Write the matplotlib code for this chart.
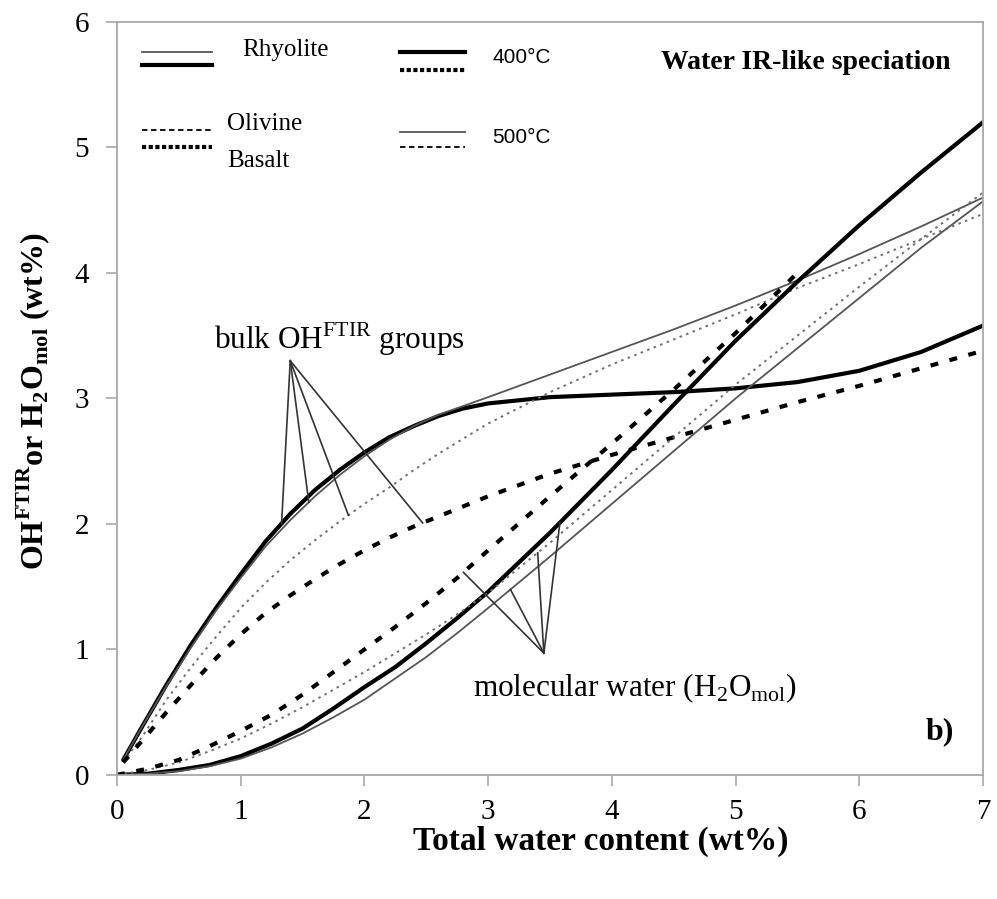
import numpy as np
import matplotlib
matplotlib.use("Agg")
import matplotlib.pyplot as plt
from matplotlib.lines import Line2D

plt.rcParams['font.family'] = ['Liberation Serif', 'DejaVu Serif']
plt.rcParams['mathtext.fontset'] = 'custom'
plt.rcParams['mathtext.rm'] = 'Liberation Serif'
plt.rcParams['mathtext.bf'] = 'Liberation Serif:bold'

# total water content (wt%) for the OH curves
x_oh = [0.05, 0.2, 0.4, 0.6, 0.8, 1.0, 1.2, 1.4, 1.6, 1.8, 2.0, 2.2, 2.4, 2.6, 2.8,
        3.0, 3.5, 4.0, 4.5, 5.0, 5.5, 6.0, 6.5, 7.0]
rhy400_oh = [0.12, 0.38, 0.72, 1.04, 1.33, 1.60, 1.86, 2.08, 2.27, 2.43, 2.57, 2.69, 2.78, 2.86, 2.92,
             2.96, 3.01, 3.03, 3.05, 3.08, 3.13, 3.22, 3.37, 3.58]
rhy500_oh = [0.12, 0.38, 0.71, 1.02, 1.31, 1.57, 1.82, 2.03, 2.22, 2.39, 2.54, 2.67, 2.78, 2.87, 2.94,
             3.01, 3.19, 3.37, 3.55, 3.74, 3.94, 4.15, 4.37, 4.60]
bas500_oh = [0.10, 0.30, 0.60, 0.86, 1.10, 1.33, 1.53, 1.71, 1.87, 2.02, 2.16, 2.29, 2.43, 2.56, 2.68,
             2.80, 3.05, 3.27, 3.47, 3.67, 3.88, 4.07, 4.27, 4.47]
bas400_oh = [0.10, 0.27, 0.50, 0.72, 0.93, 1.12, 1.29, 1.43, 1.56, 1.68, 1.79, 1.89, 1.98, 2.06, 2.14,
             2.22, 2.40, 2.55, 2.69, 2.83, 2.97, 3.10, 3.24, 3.38]

# total water content (wt%) for the molecular water curves
x_mol = [0.0, 0.25, 0.5, 0.75, 1.0, 1.25, 1.5, 1.75, 2.0, 2.25, 2.5, 2.75, 3.0,
         3.5, 4.0, 4.5, 5.0, 5.5, 6.0, 6.5, 7.0]
rhy400_mol = [0.0, 0.01, 0.04, 0.08, 0.15, 0.25, 0.37, 0.53, 0.70, 0.86, 1.05, 1.25, 1.46,
              1.93, 2.43, 2.95, 3.46, 3.93, 4.38, 4.80, 5.20]
rhy500_mol = [0.0, 0.01, 0.03, 0.07, 0.13, 0.22, 0.33, 0.46, 0.60, 0.77, 0.94, 1.13, 1.33,
              1.74, 2.16, 2.58, 3.00, 3.40, 3.80, 4.20, 4.57]
bas500_mol = [0.0, 0.04, 0.10, 0.19, 0.29, 0.41, 0.54, 0.68, 0.82, 0.97, 1.12, 1.28, 1.45,
              1.85, 2.27, 2.69, 3.11, 3.50, 3.89, 4.27, 4.64]
x_bas400_mol = [0.0, 0.25, 0.5, 0.75, 1.0, 1.25, 1.5, 1.75, 2.0, 2.25, 2.5, 2.75, 3.0,
                3.5, 4.0, 4.5, 5.0, 5.5]
bas400_mol = [0.0, 0.05, 0.12, 0.23, 0.35, 0.48, 0.64, 0.82, 1.00, 1.18, 1.37, 1.57, 1.79,
              2.22, 2.64, 3.07, 3.52, 4.00]

# line styles: rhyolite solid, basalt broken; 400 C thick, 500 C thin
thick_solid = dict(color='black', lw=3.0, solid_capstyle='round', solid_joinstyle='round')
thin_solid = dict(color='#555555', lw=1.3)
thick_dash = dict(color='black', lw=3.0, dashes=(1.9, 2.8))
thin_dot = dict(color='#707070', lw=1.4, dashes=(1.3, 2.3))

fig = plt.figure(figsize=(9.97, 8.99), dpi=100)
ax = fig.add_axes([0.1174, 0.138, 0.8686, 0.8377])

ax.plot(x_oh, rhy400_oh, **thick_solid)
ax.plot(x_oh, rhy500_oh, **thin_solid)
ax.plot(x_oh, bas500_oh, **thin_dot)
ax.plot(x_oh, bas400_oh, **thick_dash)
ax.plot(x_mol, rhy400_mol, **thick_solid)
ax.plot(x_mol, rhy500_mol, **thin_solid)
ax.plot(x_mol, bas500_mol, **thin_dot)
ax.plot(x_bas400_mol, bas400_mol, **thick_dash)

ax.set_xlim(0, 7)
ax.set_ylim(0, 6)
ax.set_xticks(range(0, 8))
ax.set_yticks(range(0, 7))
for s in ax.spines.values():
    s.set_color('#a8a8a8')
    s.set_linewidth(1.3)
ax.tick_params(axis='both', direction='out', length=8, width=1.2, color='#a8a8a8',
               labelsize=21)
ax.tick_params(axis='x', pad=9)
ax.tick_params(axis='y', pad=12)

ax.set_xlabel('Total water content (wt%)', fontsize=24, fontweight='bold')
ax.xaxis.set_label_coords(0.558, -0.067)
ax.set_ylabel(r'OH$^{\mathbf{FTIR}}$or H$_{\mathbf{2}}$O$_{\mathbf{mol}}$ (wt%)',
              fontsize=23, fontweight='bold')
ax.yaxis.set_label_coords(-0.075, 0.497)

# annotation: bulk OH groups
ax.text(0.78, 3.39, r'bulk OH$^{\mathrm{FTIR}}$ groups', fontsize=22.5, ha='left', va='baseline')
oh_apex = (1.40, 3.30)
for xs, ys, xt in [(x_oh, rhy400_oh, 1.33), (x_oh, rhy500_oh, 1.55),
                   (x_oh, bas500_oh, 1.87), (x_oh, bas400_oh, 2.47)]:
    ax.plot([oh_apex[0], xt], [oh_apex[1], np.interp(xt, xs, ys)], color='#333333', lw=1.2)

# annotation: molecular water
ax.text(2.88, 0.63, r'molecular water (H$_2$O$_{\mathrm{mol}}$)', fontsize=22.5, ha='left', va='baseline')
mol_apex = (3.45, 0.97)
for xs, ys, xt in [(x_bas400_mol, bas400_mol, 2.8), (x_mol, rhy500_mol, 3.18),
                   (x_mol, bas500_mol, 3.4), (x_mol, rhy400_mol, 3.58)]:
    ax.plot([mol_apex[0], xt], [mol_apex[1], np.interp(xt, xs, ys)], color='#333333', lw=1.2)

# hand-made legend
tr = ax.transAxes
leg = [
    ((0.029, 0.110), 0.960, dict(color='#555555', lw=1.3)),
    ((0.029, 0.110), 0.943, dict(color='black', lw=3.0)),
    ((0.029, 0.110), 0.857, dict(color='black', lw=1.3, dashes=(3, 2))),
    ((0.029, 0.110), 0.834, dict(color='black', lw=3.0, dashes=(1.0, 0.6))),
    ((0.327, 0.402), 0.960, dict(color='black', lw=3.0)),
    ((0.327, 0.402), 0.936, dict(color='black', lw=3.0, dashes=(1.0, 0.6))),
    ((0.327, 0.402), 0.854, dict(color='#555555', lw=1.3)),
    ((0.327, 0.402), 0.834, dict(color='black', lw=1.3, dashes=(3, 2))),
]
for (x0, x1), y, st in leg:
    ax.add_line(Line2D([x0, x1], [y, y], transform=tr, **st))

ax.text(0.144, 0.962, 'Rhyolite', transform=tr, fontsize=18, va='center')
ax.text(0.127, 0.864, 'Olivine', transform=tr, fontsize=18, va='center')
ax.text(0.127, 0.815, 'Basalt', transform=tr, fontsize=18, va='center')
ax.text(0.433, 0.952, '400°C', transform=tr, fontsize=15, va='center', family='Liberation Sans')
ax.text(0.433, 0.847, '500°C', transform=tr, fontsize=15, va='center', family='Liberation Sans')
ax.text(0.962, 0.946, 'Water IR-like speciation', transform=tr, fontsize=20,
        fontweight='bold', ha='right', va='center')
ax.text(0.95, 0.057, 'b)', transform=tr, fontsize=23, fontweight='bold', ha='center', va='center')

fig.savefig('out.png', dpi=100)
